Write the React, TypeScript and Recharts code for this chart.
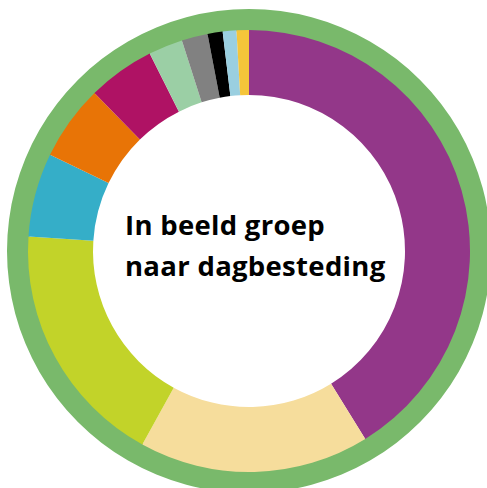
import { PieChart, Pie, Cell } from "recharts";

// groepen, met de klok mee vanaf 12 uur
const groepen = [
  "Paars",
  "Beige",
  "Geelgroen",
  "Blauw",
  "Oranje",
  "Magenta",
  "Lichtgroen",
  "Grijs",
  "Zwart",
  "Lichtblauw",
  "Geel",
];
const aandelen = [41.1, 16.8, 18.0, 6.1, 5.5, 4.9, 2.5, 1.9, 1.1, 1.0, 0.9];
const kleuren = [
  "#933789",
  "#F6DD9C",
  "#C2D329",
  "#35AEC8",
  "#E87406",
  "#AF1264",
  "#9BCFA5",
  "#818181",
  "#000000",
  "#9ACFE0",
  "#F5C53A",
];
const titelRegels = ["In beeld groep", "naar dagbesteding"];

const data = groepen.map((naam, i) => ({ naam, waarde: aandelen[i] }));
const rand = [{ naam: "rand", waarde: 1 }];

export default function App() {
  return (
    <div
      style={{
        position: "absolute",
        left: 0,
        top: 0,
        width: 487,
        height: 488,
        background: "#fff",
        overflow: "hidden",
      }}
    >
      <PieChart
        width={487}
        height={488}
        margin={{ top: 0, right: 0, bottom: 0, left: 0 }}
      >
        <Pie
          data={rand}
          dataKey="waarde"
          cx={249}
          cy={251}
          innerRadius={220}
          outerRadius={242}
          fill="#79B96B"
          stroke="none"
          isAnimationActive={false}
        />
        <Pie
          data={data}
          dataKey="waarde"
          nameKey="naam"
          cx={249}
          cy={251}
          innerRadius={156}
          outerRadius={221}
          startAngle={90}
          endAngle={-270}
          stroke="none"
          isAnimationActive={false}
        >
          {data.map((d, i) => (
            <Cell key={d.naam} fill={kleuren[i]} />
          ))}
        </Pie>
      </PieChart>
      <svg
        width={487}
        height={488}
        style={{ position: "absolute", left: 0, top: 0, pointerEvents: "none" }}
      >
        {titelRegels.map((r, i) => (
          <text
            key={r}
            x={125}
            y={235 + i * 41}
            fontFamily="'Open Sans', sans-serif"
            fontWeight={700}
            fontSize={27.5}
            letterSpacing={0.3}
            fill="#000"
          >
            {r}
          </text>
        ))}
      </svg>
    </div>
  );
}
